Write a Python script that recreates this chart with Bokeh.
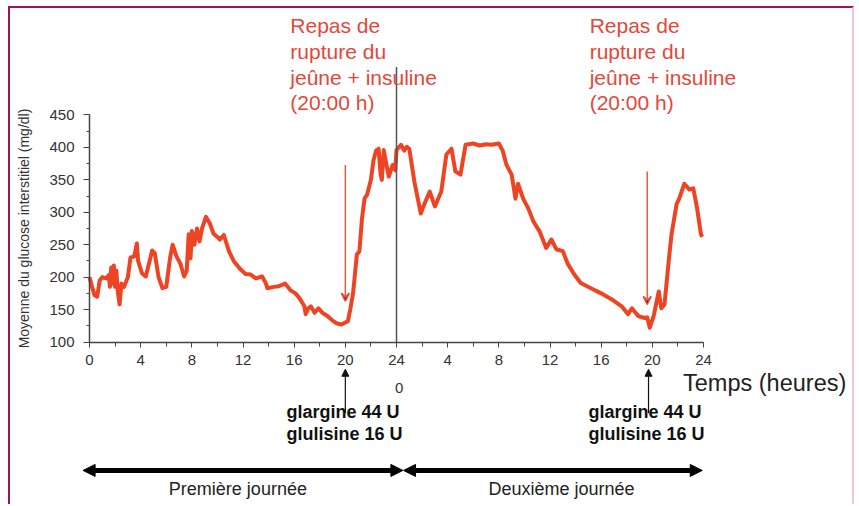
from bokeh.plotting import figure
from bokeh.models import Range1d, FixedTicker, Label, Arrow, NormalHead, VeeHead
from bokeh.embed import file_html
from bokeh.resources import INLINE

# ---- data (hours since start of day 1, interstitial glucose mg/dl) ----
hours = [0.0, 0.2, 0.4, 0.6, 0.8, 1.0, 1.3, 1.5, 1.6, 1.7, 1.8, 1.9, 2.0, 2.1, 2.2, 2.35, 2.5, 2.7,
         3.0, 3.2, 3.5, 3.7, 3.8, 4.1, 4.4, 4.7, 4.9, 5.1, 5.4, 5.7, 6.0, 6.3, 6.5, 6.8, 7.1, 7.4,
         7.6, 7.75, 7.9, 8.0, 8.2, 8.4, 8.6, 8.8, 9.1, 9.4, 9.7, 10.0, 10.2, 10.5, 10.9, 11.3, 11.8,
         12.2, 12.6, 13.0, 13.5, 13.8, 13.9, 14.4, 14.8, 15.3, 15.7, 16.1, 16.4, 16.8, 16.9, 17.1,
         17.3, 17.6, 17.9, 18.2, 18.6, 19.0, 19.3, 19.7, 20.0, 20.2, 20.4, 20.6, 20.7, 20.9, 21.1,
         21.3, 21.5, 21.7, 22.0, 22.2, 22.4, 22.6, 22.75, 22.85, 23.0, 23.2, 23.4, 23.7, 23.9,
         24.0, 24.35, 24.6, 24.8, 25.0, 25.4, 25.9, 26.1, 26.6, 27.0, 27.5, 27.9, 28.3, 28.6, 29.0,
         29.4, 30.0, 30.5, 31.0, 31.4, 32.0, 32.3, 32.6, 33.0, 33.3, 33.5, 33.9, 34.3, 34.7, 35.2,
         35.7, 36.1, 36.5, 37.0, 37.4, 37.9, 38.4, 39.2, 40.0, 40.8, 41.6, 42.1, 42.4, 42.9, 43.4,
         43.6, 43.8, 44.1, 44.5, 44.7, 44.95, 45.3, 45.5, 45.9, 46.1, 46.5, 46.9, 47.2, 47.5, 47.8,
         47.9]
glucose = [200, 185, 172, 170, 195, 200, 198, 203, 185, 215, 190, 218, 185, 210, 180, 158, 190, 185,
           200, 230, 232, 252, 225, 206, 201, 225, 241, 237, 200, 183, 185, 230, 250, 232, 221, 201,
           210, 266, 229, 271, 250, 275, 255, 275, 293, 283, 267, 262, 258, 265, 240, 224, 212,
           205, 204, 198, 201, 190, 183, 185, 186, 190, 180, 175, 168, 155, 143, 152,
           155, 145, 152, 145, 140, 133, 129, 127, 130, 132, 152, 175, 194, 235, 240,
           290, 321, 327, 350, 380, 395, 398, 360, 350, 396, 375, 355, 373, 365,
           396, 404, 395, 401, 398, 347, 298, 309, 332, 309, 332, 389, 398, 363, 358,
           404, 406, 403, 405, 404, 406, 395, 373, 358, 321, 344, 321, 306, 286, 270,
           245, 258, 243, 240, 220, 204, 191, 183, 175, 166, 155, 143, 152, 140, 137,
           138, 122, 140, 178, 152, 158, 229, 266, 313, 321, 344, 335, 337, 306, 266,
           262]

x_tick_values = [0, 4, 8, 12, 16, 20, 24, 28, 32, 36, 40, 44, 48]
x_tick_labels = ["0", "4", "8", "12", "16", "20", "24", "4", "8", "12", "16", "20", "24"]
y_tick_values = [100, 150, 200, 250, 300, 350, 400, 450]

injection_hours = [20.0, 43.7]           # glargine / glulisine injections
meal_hours = [20.0, 43.6]                # red "Repas" arrows
meal_text = ["Repas de", "rupture du", "jeûne + insuline", "(20:00 h)"]
dose_text = ["glargine 44 U", "glulisine 16 U"]
day_labels = ["Première journée", "Deuxième journée"]

LINE = "#ef4423"
RED_TXT = "#e5473a"
AX = "#444444"
FONT = "Liberation Sans"

# layout geometry (canvas pixels)
W, H = 846, 498
X0_PX, PX_PER_H = 79.0, 12.792        # position of hour 0, pixels per hour
Y100_PX, PX_PER_U = 333.5, 0.6486     # position of 100 mg/dl from top, pixels per mg/dl
x_start = -X0_PX / PX_PER_H
x_end = x_start + W / PX_PER_H
y_end = 100 + Y100_PX / PX_PER_U
y_start = 100 - (H - Y100_PX) / PX_PER_U

p = figure(width=W, height=H, output_backend="svg", toolbar_location=None,
           x_range=Range1d(x_start, x_end), y_range=Range1d(y_start, y_end),
           min_border=0, min_border_left=0, min_border_right=0, min_border_top=0,
           min_border_bottom=0)
p.styles = {"border-top": "2px solid #a3134f", "border-left": "2px solid #a3134f",
            "border-right": "2px solid #f6c3da", "margin-left": "8px", "margin-top": "6px"}
p.grid.visible = False
p.outline_line_color = None
p.background_fill_color = "white"
p.border_fill_color = "white"

# axes
xa = p.xaxis[0]
xa.fixed_location = 100
xa.bounds = (0, 48)
xa.ticker = FixedTicker(ticks=x_tick_values, minor_ticks=list(range(0, 49, 2)))
xa.major_label_overrides = {v: l for v, l in zip(x_tick_values, x_tick_labels)}
ya = p.yaxis[0]
ya.fixed_location = 0
ya.bounds = (100, 450)
ya.ticker = FixedTicker(ticks=y_tick_values, minor_ticks=list(range(100, 451, 25)))
for ax in (xa, ya):
    ax.axis_line_color = AX
    ax.axis_line_width = 1.5
    ax.major_tick_line_color = AX
    ax.minor_tick_line_color = AX
    ax.major_tick_in = 0
    ax.minor_tick_in = 0
    ax.major_label_text_font = FONT
    ax.major_label_text_font_size = "15px"
    ax.major_label_text_color = "#333333"
xa.major_tick_out = 5
xa.minor_tick_out = 4
xa.major_label_standoff = 8
ya.major_tick_out = 6
ya.minor_tick_out = 3
ya.major_label_standoff = 9
ya.axis_label = "Moyenne du glucose interstitiel (mg/dl)"
ya.axis_label_text_font = FONT
ya.axis_label_text_font_style = "normal"
ya.axis_label_text_font_size = "14px"
ya.axis_label_text_color = "#333333"
ya.axis_label_standoff = 14

# glucose trace
p.line(hours, glucose, line_color=LINE, line_width=4, line_join="round")

# day separator
p.add_layout(Arrow(end=None, x_start=24, y_start=524, x_end=24, y_end=100,
                   line_color="#555555", line_width=1.5))
p.add_layout(Label(x=24.2, y=21.7, text="0", text_align="center", text_font=FONT,
                   text_font_size="15px", text_color="#333333"))

# annotations per day
meal_text_x = [15.7, 39.1]
meal_text_y = [570, 530, 490, 452]
dose_text_x = [15.4, 39.0]
dose_text_y = [-24, -58]
for i in range(2):
    p.add_layout(Arrow(end=VeeHead(size=8, line_color=RED_TXT, line_width=1.5),
                       x_start=meal_hours[i], y_start=[373, 363][i],
                       x_end=meal_hours[i], y_end=[163, 158][i],
                       line_color="#e0603f", line_width=1.5))
    for t, yy in zip(meal_text, meal_text_y):
        p.add_layout(Label(x=meal_text_x[i], y=yy, text=t, text_font=FONT,
                           text_font_size="21px", text_color=RED_TXT))
    p.add_layout(Arrow(end=NormalHead(size=7, fill_color="#111111", line_color="#111111"),
                       x_start=injection_hours[i], y_start=-10, x_end=injection_hours[i], y_end=58,
                       line_color="#111111", line_width=1.2))
    for t, yy in zip(dose_text, dose_text_y):
        p.add_layout(Label(x=dose_text_x[i], y=yy, text=t, text_font=FONT,
                           text_font_style="bold", text_font_size="18px", text_color="#111111"))

p.add_layout(Label(x=46.4, y=17, text="Temps (heures)", text_font=FONT,
                   text_font_size="23.5px", text_color="#222222"))

# day spans
for xs, xe, cx, lab in [(-0.5, 24.5, 11.6, day_labels[0]), (24.55, 47.9, 36.9, day_labels[1])]:
    p.add_layout(Arrow(start=NormalHead(size=12, fill_color="black", line_color="black"),
                       end=NormalHead(size=12, fill_color="black", line_color="black"),
                       x_start=xs, y_start=-98, x_end=xe, y_end=-98,
                       line_color="black", line_width=5))
    p.add_layout(Label(x=cx, y=-142, text=lab, text_align="center", text_font=FONT,
                       text_font_size="18px", text_color="#222222"))

open("out.html", "w").write(file_html(p, INLINE))
